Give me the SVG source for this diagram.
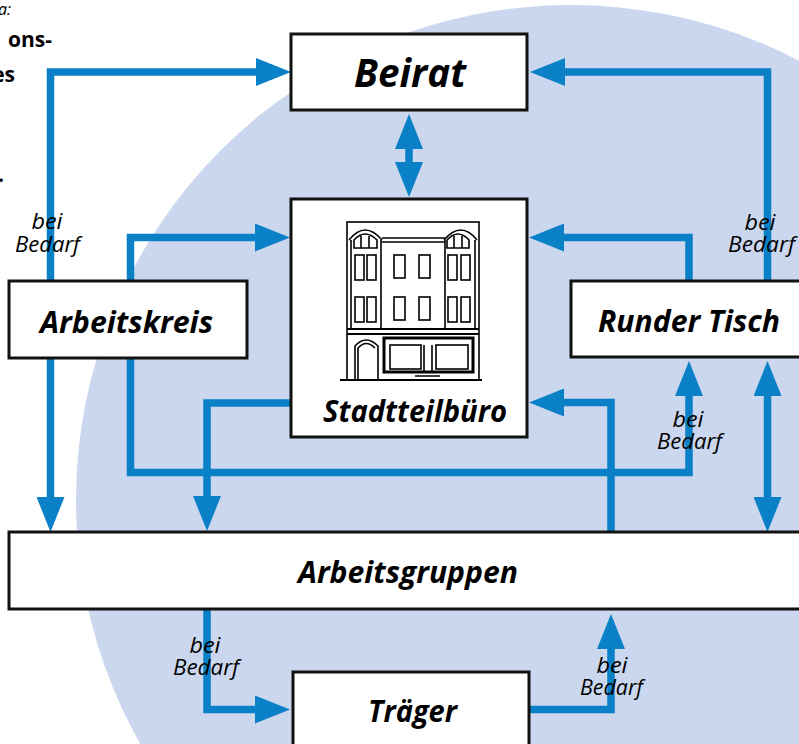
<svg xmlns="http://www.w3.org/2000/svg" width="799" height="744" viewBox="0 0 799 744">
<defs>
<style>
.bg{fill:#cbd7ee}
.box{fill:#fff;stroke:#111;stroke-width:3}
.con{fill:none;stroke:#0a80c6;stroke-width:7.5;stroke-linejoin:miter;stroke-linecap:butt}
.lbl{font-family:"Open Sans","Liberation Sans",sans-serif;font-weight:700;font-style:italic;fill:#000;text-anchor:middle}
.note{font-family:"Open Sans","Liberation Sans",sans-serif;font-weight:400;font-style:italic;font-size:21px;fill:#000;text-anchor:middle}
.cap{font-family:"Open Sans","Liberation Sans",sans-serif;font-weight:700;font-size:21px;fill:#000;text-anchor:end}
.bld{fill:none;stroke:#000;stroke-width:1.6}
</style>
<marker id="ah" viewBox="0 0 35 28" refX="5" refY="14" markerWidth="35" markerHeight="28" markerUnits="userSpaceOnUse" orient="auto-start-reverse">
<path d="M0,0 L35,14 L0,28 z" fill="#0a80c6"/>
</marker>
</defs>
<rect width="799" height="744" fill="#fff"/>
<circle class="bg" cx="571" cy="500" r="495"/>
<g id="caption">
<text x="11" y="15" font-family="Open Sans, Liberation Sans, sans-serif" font-style="italic" font-size="16" text-anchor="end">a:</text>
<text class="cap" x="52" y="47">ons-</text>
<text class="cap" x="15" y="82">es</text>
<text class="cap" x="4" y="182">.</text>
</g>
<g id="connectors">
<path class="con" d="M261,72 H50.5 V502" marker-start="url(#ah)" marker-end="url(#ah)"/>
<path class="con" d="M767.5,281 V72 H560" marker-end="url(#ah)"/>
<path class="con" d="M689,281 V237.5 H559" marker-end="url(#ah)"/>
<path class="con" d="M409,144 V167" marker-start="url(#ah)" marker-end="url(#ah)"/>
<path class="con" d="M130.5,281 V237.5 H260" marker-end="url(#ah)"/>
<path class="con" d="M130.5,357 V472.5 H689 V391" marker-end="url(#ah)"/>
<path class="con" d="M291,403 H207 V501" marker-end="url(#ah)"/>
<path class="con" d="M611,532 V402.5 H559" marker-end="url(#ah)"/>
<path class="con" d="M767.5,391 V502" marker-start="url(#ah)" marker-end="url(#ah)"/>
<path class="con" d="M207,609 V709.5 H260" marker-end="url(#ah)"/>
<path class="con" d="M529,709.5 H611 V644" marker-end="url(#ah)"/>
</g>
<g id="notes">
<text class="note"><tspan x="47" y="229" textLength="31" lengthAdjust="spacingAndGlyphs">bei</tspan><tspan x="47.5" y="252" textLength="65" lengthAdjust="spacingAndGlyphs">Bedarf</tspan></text>
<text class="note"><tspan x="760" y="230" textLength="31" lengthAdjust="spacingAndGlyphs">bei</tspan><tspan x="761.5" y="252" textLength="67" lengthAdjust="spacingAndGlyphs">Bedarf</tspan></text>
<text class="note"><tspan x="688" y="427" textLength="31" lengthAdjust="spacingAndGlyphs">bei</tspan><tspan x="689.5" y="449" textLength="65" lengthAdjust="spacingAndGlyphs">Bedarf</tspan></text>
<text class="note"><tspan x="205" y="653" textLength="31" lengthAdjust="spacingAndGlyphs">bei</tspan><tspan x="206" y="675" textLength="66" lengthAdjust="spacingAndGlyphs">Bedarf</tspan></text>
<text class="note"><tspan x="612" y="673" textLength="31" lengthAdjust="spacingAndGlyphs">bei</tspan><tspan x="611.5" y="695" textLength="63" lengthAdjust="spacingAndGlyphs">Bedarf</tspan></text>
</g>
<g id="beirat">
<rect class="box" x="291" y="34" width="236" height="76"/>
<text class="lbl" x="410" y="87" font-size="40" textLength="112" lengthAdjust="spacingAndGlyphs">Beirat</text>
</g>
<g id="stadtteilbuero">
<rect class="box" x="291" y="199" width="236" height="238"/>
<g class="bld">
<path d="M340,380 H482" stroke-width="2"/>
<rect x="347" y="222" width="132" height="158"/>
<path d="M351,240 V328 M381,240 V328 M445,240 V328 M475,240 V328"/>
<path d="M382,238 H445 M382,242 H445"/>
<path d="M349,240 Q365,220 382,240 M444,240 Q461,220 477,240"/>
<path d="M354,248 V240 Q365,228 377,240 V248 Z M361,236 V248 M369,236 V248"/>
<path d="M447,248 V240 Q458,228 469,240 V248 Z M454,236 V248 M462,236 V248"/>
<path d="M347,329 H479 M347,334 H479" stroke-width="2"/>
<rect x="355" y="255" width="9" height="25"/>
<rect x="367" y="255" width="9" height="25"/>
<rect x="448" y="255" width="9" height="25"/>
<rect x="461" y="255" width="9" height="25"/>
<rect x="394" y="255" width="11" height="23"/>
<rect x="419" y="255" width="11" height="23"/>
<rect x="355" y="297" width="9" height="25"/>
<rect x="367" y="297" width="9" height="25"/>
<rect x="448" y="297" width="9" height="25"/>
<rect x="461" y="297" width="9" height="25"/>
<rect x="394" y="297" width="11" height="23"/>
<rect x="419" y="297" width="11" height="23"/>
<path d="M355,380 V346 Q366,334 378,346 V380 M358,380 V348 Q366,339 375,348"/>
<rect x="384" y="338" width="89" height="34" stroke-width="3"/>
<rect x="390" y="345" width="31" height="24"/>
<rect x="436" y="345" width="32" height="24"/>
<path d="M424,345 V372 M432,345 V372"/>
<path d="M417,372 H438 M415,376 H440"/>
</g>
<text class="lbl" x="415" y="422" font-size="30" textLength="184" lengthAdjust="spacingAndGlyphs">Stadtteilbüro</text>
</g>
<g id="arbeitskreis">
<rect class="box" x="9" y="281" width="238" height="77"/>
<text class="lbl" x="126.5" y="333" font-size="30" textLength="173" lengthAdjust="spacingAndGlyphs">Arbeitskreis</text>
</g>
<g id="runder-tisch">
<rect class="box" x="571" y="281" width="240" height="76"/>
<text class="lbl" x="689" y="332" font-size="30" textLength="182" lengthAdjust="spacingAndGlyphs">Runder Tisch</text>
</g>
<g id="arbeitsgruppen">
<rect class="box" x="9" y="532" width="805" height="77"/>
<text class="lbl" x="408" y="583" font-size="30" textLength="220" lengthAdjust="spacingAndGlyphs">Arbeitsgruppen</text>
</g>
<g id="traeger">
<rect class="box" x="293" y="672" width="236" height="85"/>
<text class="lbl" x="412.5" y="722" font-size="30" textLength="89" lengthAdjust="spacingAndGlyphs">Träger</text>
</g>
</svg>
